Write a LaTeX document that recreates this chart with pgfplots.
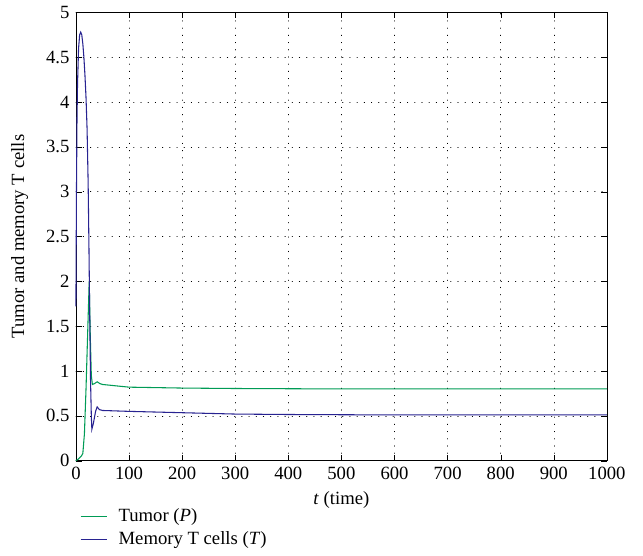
\documentclass[border=0pt]{standalone}
\usepackage{fontspec}
\setmainfont{Liberation Serif}
\usepackage{pgfplots}
\pgfplotsset{compat=1.18}
\definecolor{tumorgreen}{RGB}{0,155,85}
\definecolor{memblue}{RGB}{40,35,145}
\begin{document}
\fontsize{14}{16}\selectfont
\begin{tikzpicture}
\begin{axis}[
  scale only axis,
  width=398pt, height=336pt,
  xmin=0, xmax=1000, ymin=0, ymax=5,
  xtick={0,100,...,1000},
  ytick={0,0.5,...,5},
  grid=major,
  major grid style={black, line cap=round, dash pattern=on 0.4pt off 5pt},
  tick style={black},
  axis line style={black},
  /pgf/number format/assume math mode=true,
  /pgf/number format/set thousands separator={},
  ticklabel style={font=\fontsize{14}{16}\selectfont},
  label style={font=\fontsize{14}{16}\selectfont},
  xlabel={\textit{t} (time)},
  ylabel={Tumor and memory T cells},
  xlabel style={yshift=1pt},
  ylabel style={yshift=4pt},
  clip=false,
  legend style={draw=none, fill=none, at={(rel axis cs:0.0,-0.095)}, anchor=north west,
    font=\fontsize{14}{16}\selectfont, row sep=1pt, legend cell align=left,
    /tikz/every odd column/.append style={column sep=6pt}},
  legend image code/.code={\draw[#1] (0pt,0pt) -- (20pt,0pt);},
]
\addplot[tumorgreen, line width=0.8pt] coordinates {
  (0,0) (5,0.02) (10,0.05) (13,0.08) (16,0.3) (19,0.8) (22,1.4) (25,2.0)
  (27,1.4) (29,0.95) (31,0.85) (35,0.86) (40,0.88) (45,0.86) (50,0.85)
  (100,0.82) (200,0.81) (300,0.805) (500,0.80) (1000,0.80)
};
\addlegendentry{Tumor (\textit{P})}
\addplot[memblue, line width=0.8pt] coordinates {
  (0,1.72) (1,3.0) (2,3.8) (3,4.2) (5,4.6) (7,4.75) (9,4.78) (11,4.75)
  (13,4.65) (15,4.5) (17,4.3) (19,4.05) (21,3.7) (23,3.1) (24.5,2.4)
  (26,1.6) (27.5,0.9) (29,0.5) (30,0.35) (33,0.42) (37,0.55) (40,0.6)
  (44,0.57) (50,0.56) (100,0.55) (200,0.535) (300,0.52) (400,0.515)
  (600,0.51) (1000,0.51)
};
\addlegendentry{Memory T cells (\textit{T})}
\path (rel axis cs:-0.143,-0.212) rectangle (rel axis cs:1.068,1.027);
\end{axis}
\end{tikzpicture}
\end{document}
